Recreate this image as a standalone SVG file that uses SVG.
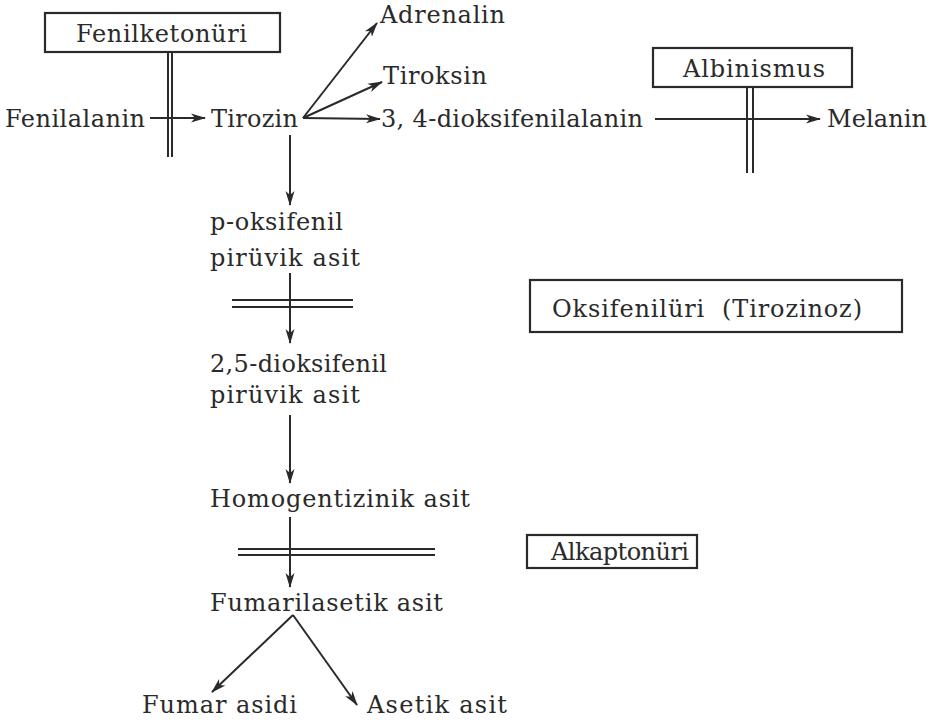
<svg xmlns="http://www.w3.org/2000/svg" width="939" height="724" viewBox="0 0 939 724">
<style>
  text { font-family: "DejaVu Serif", "Liberation Serif", serif; font-size: 24px; fill: #2a2a2a; }
  .box { fill: none; stroke: #2a2a2a; stroke-width: 2.2; }
  .arr { fill: none; stroke: #2a2a2a; stroke-width: 2; marker-end: url(#ah); }
  .bar { fill: none; stroke: #2a2a2a; stroke-width: 2; }
</style>
<defs>
  <marker id="ah" markerUnits="userSpaceOnUse" markerWidth="16" markerHeight="10" refX="14" refY="5" orient="auto">
    <path d="M0,0.5 L15,5 L0,9.5 L4,5 Z" fill="#2a2a2a"/>
  </marker>
</defs>
<rect width="939" height="724" fill="#ffffff"/>

<g id="connectors">
  <line class="arr" x1="150" y1="118" x2="205" y2="118"/>
  <line class="arr" x1="303" y1="118" x2="377" y2="23"/>
  <line class="arr" x1="303" y1="118" x2="382" y2="82"/>
  <line class="arr" x1="303" y1="118" x2="380" y2="119"/>
  <line class="arr" x1="655" y1="119" x2="820" y2="119"/>
  <line class="arr" x1="290" y1="135" x2="290" y2="205"/>
  <line class="arr" x1="290" y1="273" x2="290" y2="343"/>
  <line class="arr" x1="290" y1="415" x2="290" y2="483"/>
  <line class="arr" x1="290" y1="517" x2="290" y2="587"/>
  <line class="arr" x1="293" y1="615" x2="212" y2="692"/>
  <line class="arr" x1="293" y1="615" x2="357" y2="705"/>
  <g id="blocks">
    <line class="bar" x1="168" y1="52" x2="168" y2="157"/>
    <line class="bar" x1="172" y1="52" x2="172" y2="157"/>
    <line class="bar" x1="747" y1="87" x2="747" y2="173"/>
    <line class="bar" x1="753" y1="87" x2="753" y2="173"/>
    <line class="bar" x1="232" y1="300" x2="353" y2="300"/>
    <line class="bar" x1="232" y1="307" x2="353" y2="307"/>
    <line class="bar" x1="238" y1="549" x2="435" y2="549"/>
    <line class="bar" x1="238" y1="555" x2="435" y2="555"/>
  </g>
</g>

<g id="fenilketonuri">
  <rect class="box" x="45" y="13" width="235" height="39"/>
  <text x="76" y="42" textLength="171">Fenilketonüri</text>
</g>
<g id="albinismus">
  <rect class="box" x="653" y="48" width="199" height="39"/>
  <text x="683" y="77" textLength="142">Albinismus</text>
</g>
<g id="oksifeniluri">
  <rect class="box" x="530" y="280" width="372" height="52"/>
  <text x="552" y="317" textLength="310" xml:space="preserve">Oksifenilüri  (Tirozinoz)</text>
</g>
<g id="alkaptonuri">
  <rect class="box" x="527" y="535" width="170" height="33"/>
  <text x="551" y="560" textLength="138">Alkaptonüri</text>
</g>

<g id="fenilalanin"><text x="5" y="127" textLength="140">Fenilalanin</text></g>
<g id="tirozin"><text x="211" y="127" textLength="87">Tirozin</text></g>
<g id="adrenalin"><text x="380" y="23" textLength="125">Adrenalin</text></g>
<g id="tiroksin"><text x="383" y="84" textLength="104">Tiroksin</text></g>
<g id="dopa"><text x="381" y="127" textLength="262">3, 4-dioksifenilalanin</text></g>
<g id="melanin"><text x="827" y="127" textLength="100">Melanin</text></g>
<g id="poksifenil">
  <text x="210" y="230" textLength="133">p-oksifenil</text>
  <text x="210" y="266" textLength="150">pirüvik asit</text>
</g>
<g id="dioksifenil">
  <text x="210" y="372" textLength="177">2,5-dioksifenil</text>
  <text x="210" y="403" textLength="150">pirüvik asit</text>
</g>
<g id="homogentizinik"><text x="210" y="507" textLength="260">Homogentizinik asit</text></g>
<g id="fumarilasetik"><text x="210" y="611" textLength="233">Fumarilasetik asit</text></g>
<g id="fumar"><text x="142" y="713" textLength="155">Fumar asidi</text></g>
<g id="asetik"><text x="367" y="713" textLength="140">Asetik asit</text></g>
</svg>
